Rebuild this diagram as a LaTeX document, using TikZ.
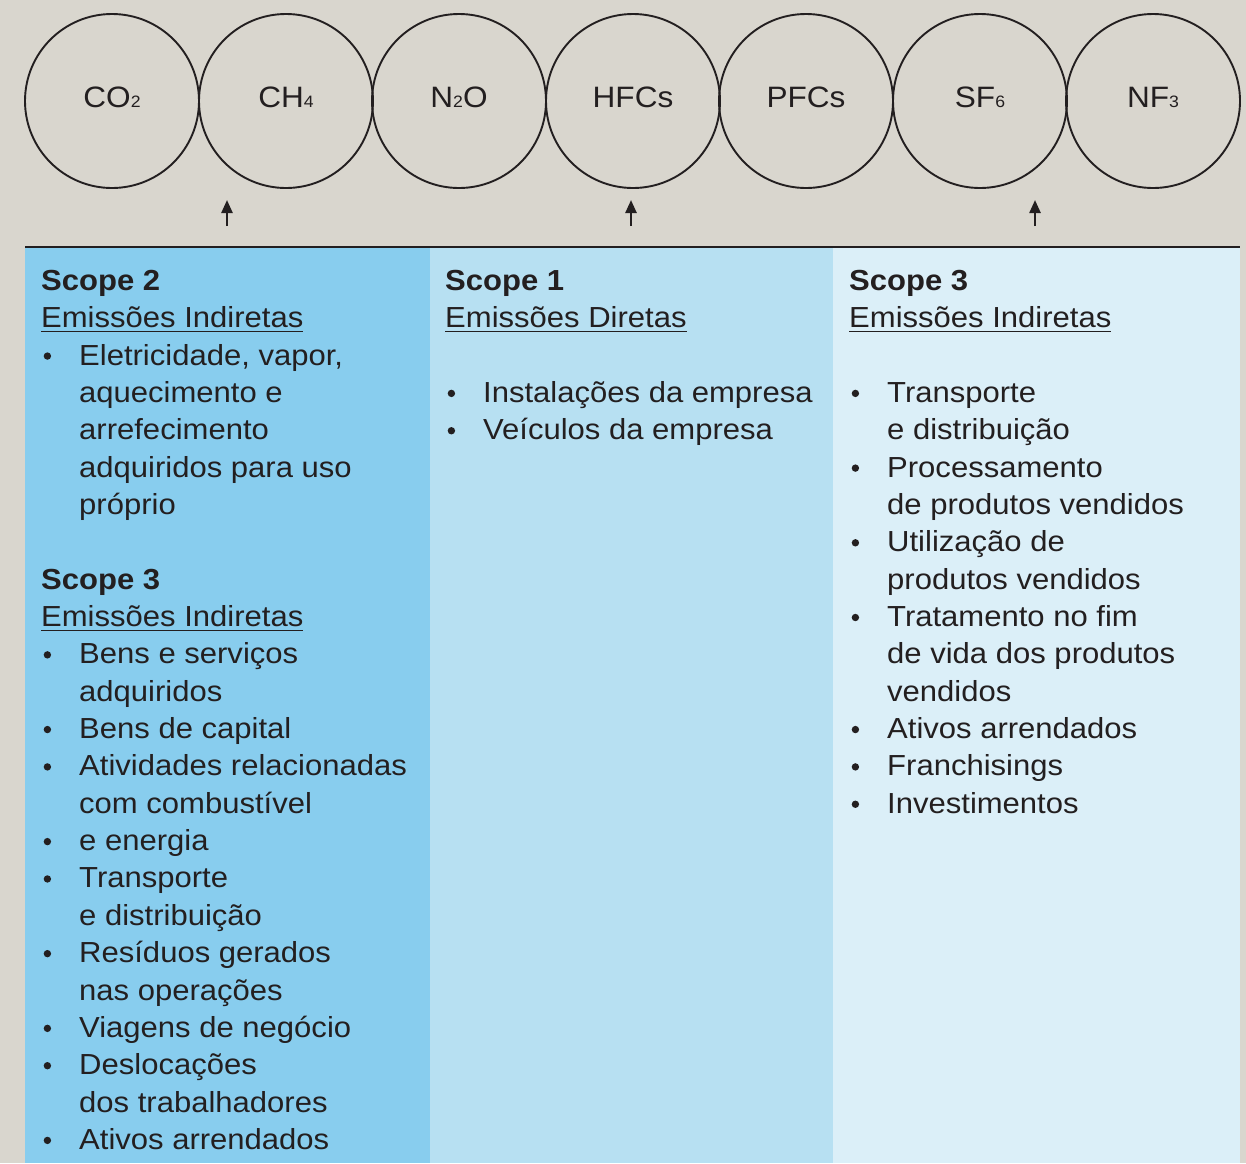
\documentclass[tikz,border=0pt]{standalone}
\usepackage{fontspec}
\setmainfont{Liberation Sans}[FakeStretch=1.07]
\usetikzlibrary{arrows.meta}
\definecolor{bgc}{HTML}{D9D6CE}
\definecolor{colA}{HTML}{88CDEE}
\definecolor{colB}{HTML}{B7E0F2}
\definecolor{colC}{HTML}{DBEFF8}
\definecolor{ink}{HTML}{231F20}
\newcommand\ulx[1]{\begingroup\setbox0\hbox{#1}\rlap{\rule[-4.5pt]{\wd0}{1.5pt}}\box0\endgroup}
\newcommand\sbx[1]{{\fontsize{16.5}{16.5}\selectfont #1}}
\newcommand\bul{\hspace*{2.5pt}\raisebox{9pt}{\tikz[baseline]\fill[ink] (0,0) circle (3.7pt);}}
\begin{document}
\begin{tikzpicture}[x=1pt,y=-1pt,
  gas/.style={draw=ink,line width=1.9pt,circle,minimum size=174pt,inner sep=0pt,
    text height=22pt,text depth=10pt,font=\fontsize{29.5}{32}\selectfont,text=ink},
  upar/.style={draw=ink,line width=2.4pt,-{Triangle[length=13pt,width=11pt]}},
  coltext/.style={anchor=north west,inner sep=0pt,text=ink,font=\fontsize{29}{37.35}\selectfont}]
\useasboundingbox (0,0) rectangle (1246,1163);
\fill[bgc] (0,0) rectangle (1246,1163);
\fill[colA] (25,247) rectangle (430,1163);
\fill[colB] (430,247) rectangle (833,1163);
\fill[colC] (833,247) rectangle (1240,1163);
\draw[ink,line width=2.6pt] (25,247) -- (1240,247);
% circles
\node[gas] (co2) at (112,101) {CO\sbx{2}};
\node[gas] (ch4) at (286,101) {CH\sbx{4}};
\node[gas] (n2o) at (459,101) {N\sbx{2}O};
\node[gas] (hfc) at (633,101) {HFCs};
\node[gas] (pfc) at (806,101) {PFCs};
\node[gas] (sf6) at (980,101) {SF\sbx{6}};
\node[gas] (nf3) at (1153,101) {NF\sbx{3}};
% arrows
\coordinate (a1s) at (227,226); \coordinate (a1e) at (227,200);
\coordinate (a2s) at (631,226); \coordinate (a2e) at (631,200);
\coordinate (a3s) at (1035,226); \coordinate (a3e) at (1035,200);
\draw[upar] (a1s) -- (a1e);
\draw[upar] (a2s) -- (a2e);
\draw[upar] (a3s) -- (a3e);
% column 1
\node[coltext] (col1) at (41,264) {\begin{tabular}{@{}p{38pt}@{}l@{}}
\multicolumn{2}{@{}l@{}}{\textbf{Scope 2}}\\
\multicolumn{2}{@{}l@{}}{\ulx{Emissões Indiretas}}\\
\bul & Eletricidade, vapor,\\
 & aquecimento e\\
 & arrefecimento\\
 & adquiridos para uso\\
 & próprio\\
 & \\
\multicolumn{2}{@{}l@{}}{\textbf{Scope 3}}\\
\multicolumn{2}{@{}l@{}}{\ulx{Emissões Indiretas}}\\
\bul & Bens e serviços\\
 & adquiridos\\
\bul & Bens de capital\\
\bul & Atividades relacionadas\\
 & com combustível\\
\bul & e energia\\
\bul & Transporte\\
 & e distribuição\\
\bul & Resíduos gerados\\
 & nas operações\\
\bul & Viagens de negócio\\
\bul & Deslocações\\
 & dos trabalhadores\\
\bul & Ativos arrendados
\end{tabular}};
% column 2
\node[coltext] (col2) at (445,264) {\begin{tabular}{@{}p{38pt}@{}l@{}}
\multicolumn{2}{@{}l@{}}{\textbf{Scope 1}}\\
\multicolumn{2}{@{}l@{}}{\ulx{Emissões Diretas}}\\
 & \\
\bul & Instalações da empresa\\
\bul & Veículos da empresa
\end{tabular}};
% column 3
\node[coltext] (col3) at (849,264) {\begin{tabular}{@{}p{38pt}@{}l@{}}
\multicolumn{2}{@{}l@{}}{\textbf{Scope 3}}\\
\multicolumn{2}{@{}l@{}}{\ulx{Emissões Indiretas}}\\
 & \\
\bul & Transporte\\
 & e distribuição\\
\bul & Processamento\\
 & de produtos vendidos\\
\bul & Utilização de\\
 & produtos vendidos\\
\bul & Tratamento no fim\\
 & de vida dos produtos\\
 & vendidos\\
\bul & Ativos arrendados\\
\bul & Franchisings\\
\bul & Investimentos
\end{tabular}};
\end{tikzpicture}
\end{document}
